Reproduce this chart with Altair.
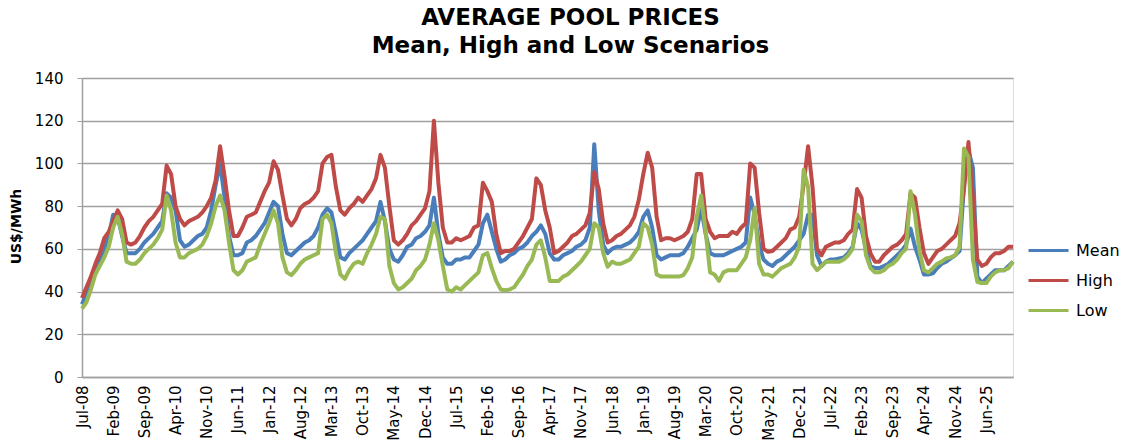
import altair as alt
import pandas as pd

# Category labels shown on the x axis (every 7th month starting Jul-08)
tick_labels = [
    "Jul-08", "Feb-09", "Sep-09", "Apr-10", "Nov-10", "Jun-11", "Jan-12",
    "Aug-12", "Mar-13", "Oct-13", "May-14", "Dec-14", "Jul-15", "Feb-16",
    "Sep-16", "Apr-17", "Nov-17", "Jun-18", "Jan-19", "Aug-19", "Mar-20",
    "Oct-20", "May-21", "Dec-21", "Jul-22", "Feb-23", "Sep-23", "Apr-24",
    "Nov-24", "Jun-25",
]

# Monthly average pool prices (US$/MWh), Jul-08 .. Dec-25
mean = [
    34, 39, 45, 50, 55, 60, 66, 76, 75, 66, 58, 58,
    58, 60, 63, 65, 67, 70, 73, 86, 84, 78, 64, 61,
    62, 64, 66, 67, 70, 78, 90, 100, 84, 66, 57, 57,
    58, 63, 64, 66, 69, 72, 77, 82, 80, 67, 58, 57,
    59, 61, 63, 64, 66, 70, 76, 79, 77, 67, 56, 55,
    58, 60, 62, 64, 67, 70, 73, 82, 73, 60, 55, 54,
    57, 61, 62, 65, 66, 68, 71, 84, 67, 56, 53, 53,
    55, 55, 56, 56, 59, 62, 72, 76, 68, 60, 54, 55,
    57, 58, 60, 61, 63, 66, 68, 71, 67, 58, 55, 55,
    57, 58, 59, 61, 62, 64, 70, 109, 78, 62, 58, 60,
    61, 61, 62, 63, 65, 68, 75, 78, 70, 57, 55, 56,
    57, 57, 57, 58, 61, 65, 69, 79, 67, 58, 57, 57,
    57, 58, 59, 60, 61, 63, 84, 76, 62, 55, 53, 52,
    54, 55, 57, 59, 61, 64, 67, 76, 76, 57, 52, 54,
    55, 55, 55.5, 56, 58, 61, 72, 69, 60, 52, 51, 51,
    52, 53, 55, 57, 59, 62, 69.5, 61, 55, 48, 48, 48.5,
    51, 53, 54, 55.5, 57, 59, 90, 106, 98, 47, 44, 46,
    48, 50, 50, 50, 52, 54,
]

high = [
    37, 42, 47, 53, 58, 65, 68, 73, 78, 74, 63, 62,
    63, 66, 70, 73, 75, 78, 81, 99, 95, 80, 74, 71,
    73, 74, 75, 77, 80, 84, 92, 108, 94, 78, 66, 66,
    70, 75, 76, 77, 82, 87, 91, 101, 97, 85, 74, 71,
    74, 79, 81, 82, 84, 87, 100, 103, 104, 89, 78, 76,
    79, 81, 84, 82, 85, 88, 93, 104, 98, 80, 64, 62,
    64, 67, 71, 73, 76, 79, 87, 120, 91, 70, 63, 63,
    65, 64, 65, 66, 70, 71, 91, 87, 82, 67, 58, 59,
    59, 60, 63, 66, 70, 74, 93, 90, 78, 70, 58, 59,
    61, 63, 66, 67, 69, 71, 77, 96, 88, 72, 63, 64,
    66, 67, 69, 71, 75, 83, 95, 105, 98, 75, 64, 65,
    65, 64, 65, 66, 68, 74, 95, 95, 74, 68, 65, 66,
    66, 66, 68, 67, 70, 72, 100, 98, 77, 60, 58.6, 59,
    61, 63, 65, 69, 70, 75, 90, 108, 89, 60, 57, 61,
    62, 63, 63, 64, 67, 69, 88, 84, 66, 58, 54, 54,
    57, 59, 61, 62, 64, 67, 86, 84, 70, 58, 53, 56,
    59, 60, 62, 64, 66, 72, 88, 110, 84, 55, 52, 53,
    56, 58, 58, 59, 61, 61,
]

low = [
    32, 35, 41, 48, 52, 56, 61, 70, 75, 67, 54, 53,
    53, 55, 58, 60, 62, 65, 69, 85, 78, 63, 56, 56,
    58, 59, 60, 62, 66, 72, 80, 85, 78, 63, 50, 48,
    50, 54, 55, 56, 62, 67, 72, 78, 72, 56, 49, 47.7,
    50, 53, 55, 56, 57, 58, 74, 76, 72, 58, 48, 46,
    50, 53, 54, 53, 58, 62, 67, 75, 74, 52, 44, 41,
    42, 44, 46, 50, 52, 55, 62, 72, 64, 52, 41, 40,
    42, 41, 43, 45, 47, 49, 57, 58, 51, 45, 41, 40.6,
    41, 42, 45, 48, 52, 55, 62, 64, 56, 45, 45, 45,
    47, 48, 50, 52, 54, 57, 60, 72, 70, 58, 51.6, 54,
    53, 53, 54, 55, 58, 61, 72, 70, 62, 48, 47, 47,
    47, 47, 47, 47.7, 51, 56, 75, 85, 68, 49, 48, 45,
    49, 50, 50, 50, 53, 56, 64, 79, 53, 48, 48, 47,
    49, 51, 52, 53, 56, 61, 97, 89, 53, 50, 52, 54,
    54, 54, 54, 55, 57, 60, 76, 73, 57, 51, 49, 49,
    50, 52, 53, 55, 58, 60, 87, 76, 59, 50, 49, 51,
    53, 54, 55.5, 56, 57, 61, 107, 103, 55, 44.5, 44, 44,
    47, 49, 50, 50, 51, 54,
]

scenarios = ["Mean", "High", "Low"]
colors = ["#4a7ebb", "#be4b48", "#98b954"]

n = len(mean)
df = pd.DataFrame({
    "month": list(range(n)) * 3,
    "price": mean + high + low,
    "scenario": ["Mean"] * n + ["High"] * n + ["Low"] * n,
})

FONT = "DejaVu Sans"
label_array = "[" + ",".join(f"'{t}'" for t in tick_labels) + "]"

x_enc = alt.X(
    "month:Q",
    scale=alt.Scale(domain=[0, n - 1], nice=False, zero=False),
    axis=alt.Axis(
        values=list(range(0, 7 * len(tick_labels), 7)),
        labelExpr=f"{label_array}[round(datum.value / 7)]",
        labelAngle=270,
        labelFont=FONT,
        labelFontSize=15,
        labelColor="black",
        labelPadding=8,
        labelOverlap=False,
        ticks=False,
        grid=False,
        domainColor="#a0a0a0",
        domainWidth=1.5,
        title=None,
    ),
)

y_enc = alt.Y(
    "price:Q",
    scale=alt.Scale(domain=[0, 140], nice=False),
    axis=alt.Axis(
        values=list(range(0, 141, 20)),
        labelFont=FONT,
        labelFontSize=15,
        labelColor="black",
        labelPadding=14,
        ticks=True,
        tickSize=5,
        tickColor="#a0a0a0",
        grid=True,
        gridColor="#a0a0a0",
        gridWidth=1.5,
        domainColor="#a0a0a0",
        domainWidth=1.5,
        title="US$/MWh",
        titleFont=FONT,
        titleFontSize=14,
        titleFontWeight="bold",
        titleColor="black",
        titleAngle=270,
        titleX=-66,
        titleY=148,
        titleAlign="center",
        titleBaseline="middle",
    ),
)

color_enc = alt.Color(
    "scenario:N",
    scale=alt.Scale(domain=scenarios, range=colors),
    legend=alt.Legend(
        title=None,
        orient="none",
        legendX=945,
        legendY=151,
        symbolType="stroke",
        symbolSize=1600,
        symbolStrokeWidth=3,
        rowPadding=-9,
        labelFont=FONT,
        labelFontSize=16,
        labelColor="black",
        labelOffset=6,
    ),
)

layers = [
    alt.Chart(df)
    .transform_filter(alt.datum.scenario == s)
    .mark_line(strokeWidth=4, strokeJoin="round")
    .encode(x=x_enc, y=y_enc, color=color_enc)
    for s in scenarios
]

chart = (
    alt.layer(*layers)
    .properties(
        width=931,
        height=299,
        autosize=alt.AutoSizeParams(type="none"),
        padding={"left": 82, "top": 78, "right": 111, "bottom": 65},
        title=alt.TitleParams(
            ["AVERAGE POOL PRICES", "Mean, High and Low Scenarios"],
            font=FONT,
            fontSize=23,
            fontWeight="bold",
            color="black",
            anchor="middle",
            dx=23,
            offset=13,
            lineHeight=28,
        ),
    )
    .configure_view(stroke=None)
    .configure(background="white")
)

chart.save("out.html", embed_options={"renderer": "svg", "actions": False})
